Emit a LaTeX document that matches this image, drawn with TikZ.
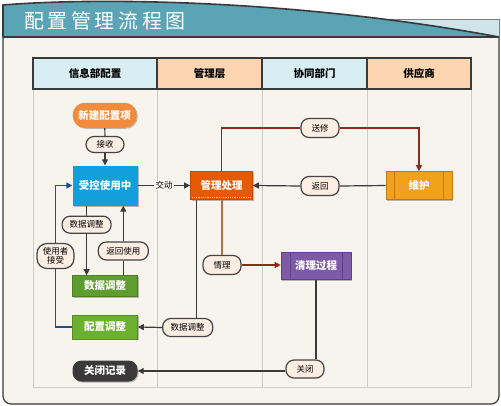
\documentclass[tikz,border=0pt]{standalone}
\usepackage{fontspec}
\setmainfont{Noto Sans CJK SC}
\usetikzlibrary{arrows.meta,shadows}
\definecolor{bodybg}{HTML}{F7F4EE}
\definecolor{teal}{HTML}{5AA4B6}
\definecolor{lightteal}{HTML}{CFE5EB}
\definecolor{framec}{HTML}{3A3A3A}
\definecolor{hblue}{HTML}{D8EEF3}
\definecolor{hpeach}{HTML}{FDD5B1}
\definecolor{lanec}{HTML}{CCCCCC}
\definecolor{pillfill}{HTML}{FDEEE4}
\definecolor{pilledge}{HTML}{444444}
\definecolor{cnew}{HTML}{F28C3C}
\definecolor{cctrl}{HTML}{139FDC}
\definecolor{cmgmt}{HTML}{E55A00}
\definecolor{cwh}{HTML}{F2A21A}
\definecolor{cwhl}{HTML}{C07810}
\definecolor{cql}{HTML}{7D5BA6}
\definecolor{cqll}{HTML}{5E3F88}
\definecolor{cdata}{HTML}{5E9E2E}
\definecolor{cadj}{HTML}{6BB02E}
\definecolor{cclose}{HTML}{3A3A3A}
\definecolor{ldark}{HTML}{3A3A3A}
\definecolor{lred}{HTML}{8C2A1C}
\definecolor{lbrown}{HTML}{C0703A}
\definecolor{lblue}{HTML}{1E4F8F}
\begin{document}
\begin{tikzpicture}[x=1pt,y=-1pt,
  pill/.style={draw=pilledge, fill=pillfill, line width=1.2pt, rounded corners=8pt,
    font=\fontsize{8.5}{10}\selectfont, text=black, inner sep=0pt, minimum height=18pt},
  proc/.style={font=\bfseries\fontsize{10.5}{11}\selectfont, text=white, inner sep=0pt,
    drop shadow={shadow xshift=1pt, shadow yshift=-1pt, opacity=.25, fill=black}},
  head/.style={draw=framec, line width=1.3pt, font=\bfseries\fontsize{10.5}{11}\selectfont, text=black},
  wire/.style={line width=1.2pt, draw=ldark},
  arr/.style={wire, -{Triangle[length=6pt,width=6pt]}},
]
\useasboundingbox (0,0) rectangle (501,405);
% body
\path[fill=bodybg, draw=framec, line width=1.2pt, rounded corners=8pt]
  (3,37) -- (3,404) -- (499,404) -- (499,37);
% banner
\path[fill=lightteal, draw=gray, line width=0.8pt] (385,19) rectangle (499,37);
\path[fill=teal] (3,37) -- (3,5) .. controls (100,-3) and (300,0) .. (499,37) -- cycle;
\draw[framec, line width=1.6pt] (3,37) -- (3,5) .. controls (100,-3) and (300,0) .. (499,37);
\draw[framec, line width=1.8pt] (3,37) -- (499,37);
\node[text=white, anchor=west, inner sep=0pt, font=\fontsize{20}{20}\selectfont\addfontfeatures{LetterSpace=18}] (title) at (24,21) {配置管理流程图};
% lanes
\draw[lanec, line width=1pt] (33,89) rectangle (471,387);
\draw[lanec, line width=1pt] (157,89) -- (157,387);
\draw[lanec, line width=1pt] (262,89) -- (262,387);
\draw[lanec, line width=1pt] (367,89) -- (367,387);
\node[head, fill=hblue, minimum width=124pt, minimum height=31pt] (h1) at (95,73.5) {信息部配置};
\node[head, fill=hpeach, minimum width=105pt, minimum height=31pt] (h2) at (209.5,73.5) {管理层};
\node[head, fill=hblue, minimum width=105pt, minimum height=31pt] (h3) at (314.5,73.5) {协同部门};
\node[head, fill=hpeach, minimum width=104pt, minimum height=31pt] (h4) at (419,73.5) {供应商};
% process nodes
\node[proc, fill=cnew, rounded corners=12pt, minimum width=64pt, minimum height=25pt] (new) at (104.7,115.3) {新建配置项};
\node[proc, fill=cctrl, minimum width=65pt, minimum height=40pt] (ctrl) at (105,185.5) {受控使用中};
\node[proc, fill=cmgmt, draw=cmgmt!85!black, line width=0.6pt, minimum width=62pt, minimum height=28pt] (mgmt) at (221.5,185.5) {管理处理};
\node[proc, fill=cwh, draw=cwhl, line width=0.6pt, minimum width=66pt, minimum height=28pt] (wh) at (419,185.5) {维护};
\node[proc, fill=cdata, draw=cdata!80!black, line width=0.6pt, minimum width=65pt, minimum height=21pt] (dbox) at (105,286) {数据调整};
\node[proc, fill=cadj, draw=cadj!80!black, line width=0.6pt, minimum width=65pt, minimum height=24pt] (adj) at (105,327) {配置调整};
\node[proc, fill=cql, draw=cqll, line width=0.6pt, minimum width=70pt, minimum height=27pt] (qlgc) at (316,266) {清理过程};
\node[proc, fill=cclose, rounded corners=9pt, minimum width=65pt, minimum height=21pt] (gbjl) at (105,371) {关闭记录};
\draw[cwhl, line width=0.8pt] ([xshift=9pt]wh.north west) -- ([xshift=9pt]wh.south west);
\draw[cwhl, line width=0.8pt] ([xshift=-9pt]wh.north east) -- ([xshift=-9pt]wh.south east);
\draw[cqll, line width=0.8pt] ([xshift=10pt]qlgc.north west) -- ([xshift=10pt]qlgc.south west);
\draw[cqll, line width=0.8pt] ([xshift=-9pt]qlgc.north east) -- ([xshift=-9pt]qlgc.south east);
\draw[cnew!60!white, densely dotted, line width=0.8pt] ([yshift=2pt,xshift=2pt]mgmt.south west) -- ([yshift=2pt,xshift=-2pt]mgmt.south east);
% labels
\node[pill, minimum width=38pt, minimum height=16pt] (recv) at (105,144.5) {接收};
\node[fill=bodybg, inner sep=1pt, font=\fontsize{8.5}{10}\selectfont] (jd) at (164,185.5) {交动};
\node[pill, minimum width=38pt, minimum height=19pt] (sx) at (320,128) {送修};
\node[pill, minimum width=38pt, minimum height=19pt] (fh) at (320,186) {返回};
\node[pill, minimum width=49pt, minimum height=17pt] (pdata) at (86.6,224.7) {数据调整};
\node[pill, minimum width=50pt, minimum height=18pt] (pback) at (123.3,251) {返回使用};
\node[pill, minimum width=37pt, minimum height=25pt, align=center, rounded corners=10pt, font=\fontsize{8.5}{9.5}\selectfont] (puser) at (55.5,256) {使用者\\接受};
\node[pill, minimum width=50pt, minimum height=18pt] (padj) at (187.7,327.5) {数据调整};
\node[pill, minimum width=38pt, minimum height=19pt] (qingli) at (222,265) {情理};
\node[pill, minimum width=38pt, minimum height=18pt] (gb) at (305,369) {关闭};
% connectors
\draw[wire] (new) -- (recv);
\draw[arr] (recv) -- (ctrl);
\draw[wire] (ctrl.east) -- (jd.west);
\draw[arr] (jd.east) -- (mgmt.west);
\draw[wire, lred] (mgmt.north) |- (sx.west);
\draw[wire, lred, -{Triangle[length=6pt,width=6pt]}] (sx.east) -| (wh.north);
\draw[wire] (wh.west) -- (fh.east);
\draw[arr] (fh.west) -- (mgmt.east);
\draw[wire] (pdata.north |- ctrl.south) -- (pdata.north);
\draw[arr] (pdata.south) -- (pdata.south |- dbox.north);
\draw[wire] (pback.south |- dbox.north) -- (pback.south);
\draw[arr] (pback.north) -- (pback.north |- ctrl.south);
\draw[wire, lblue] (adj.west) -| (puser.south);
\draw[wire, lblue, -{Triangle[length=6pt,width=6pt]}] (puser.north) |- (ctrl.west);
\coordinate (m1) at ([xshift=6.4pt]mgmt.south west);
\draw[wire] (m1) -- (m1 |- padj.north);
\draw[arr] (padj.west) -- (adj.east);
\draw[wire, lbrown] (mgmt.south -| qingli.north) -- (qingli.north);
\draw[wire, lred, -{Triangle[length=6pt,width=6pt]}] (qingli.east) -- (qingli.east -| qlgc.west);
\draw[wire] (qlgc.south) -- (qlgc.south |- gb.north);
\draw[arr] (gb.west |- gbjl.east) -- (gbjl.east);
\end{tikzpicture}
\end{document}
